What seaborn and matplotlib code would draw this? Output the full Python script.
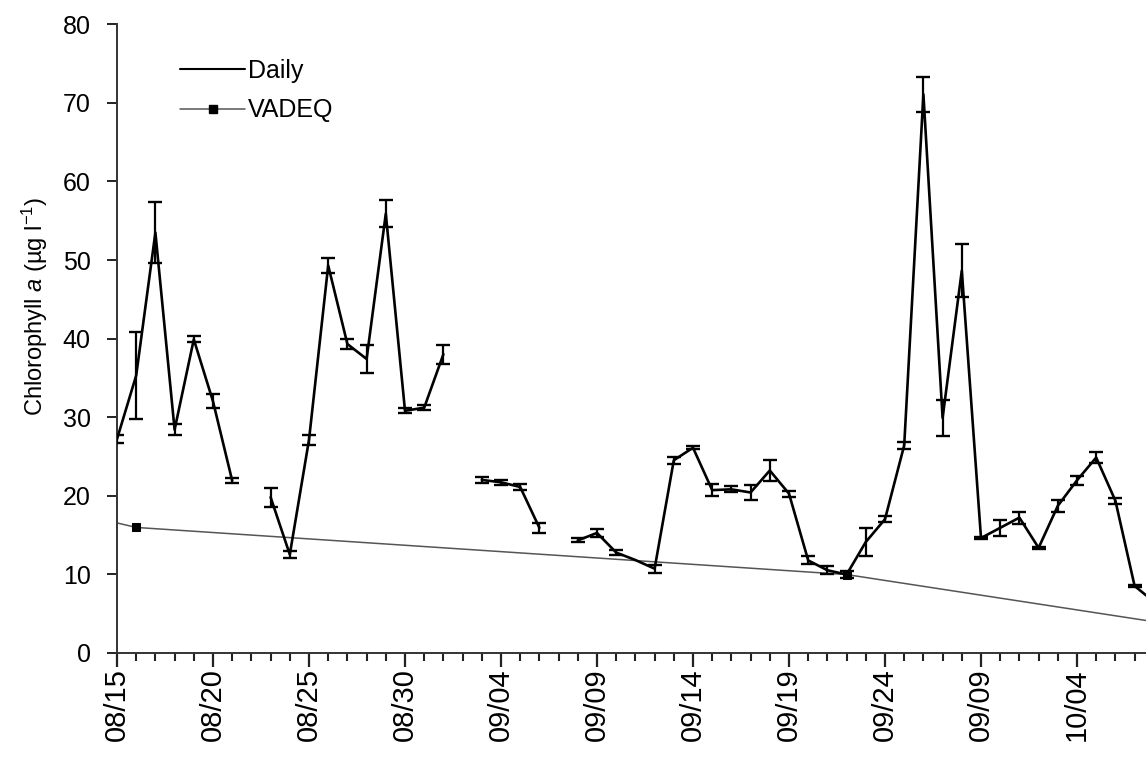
import numpy as np
import pandas as pd
import matplotlib
matplotlib.use("Agg")
import matplotlib.pyplot as plt
import seaborn as sns
from matplotlib.lines import Line2D

# ---------------- data ----------------
days = list(range(55))  # day index from 08/15
daily_chl = [27.2, 35.3, 53.5, 28.4, 39.9, 32.0, 21.9, np.nan, 19.8, 12.5,
             27.1, 49.3, 39.3, 37.4, 55.9, 30.8, 31.2, 38.0, np.nan, 22.0,
             21.7, 21.1, 15.9, np.nan, 14.3, 15.25, 12.75, 11.8, 10.7, 24.5,
             26.1, 20.7, 20.8, 20.4, 23.2, 20.25, 11.75, 10.5, 9.95, 14.1,
             17.0, 26.4, 71.1, 29.9, 48.65, 14.6, 15.9, 17.2, 13.35, 18.7,
             21.95, 24.85, 19.35, 8.5, 6.5]
daily_err = [0.55, 5.5, 3.9, 0.7, 0.4, 0.9, 0.3, np.nan, 1.2, 0.5,
             0.6, 0.9, 0.6, 1.75, 1.7, 0.3, 0.3, 1.2, np.nan, 0.4,
             0.3, 0.4, 0.6, np.nan, 0.25, 0.5, 0.3, np.nan, 0.5, 0.45,
             0.2, 0.75, 0.4, 1.0, 1.35, 0.4, 0.5, 0.5, 0.5, 1.8,
             0.35, 0.4, 2.2, 2.3, 3.4, 0.15, 1.05, 0.75, 0.15, 0.8,
             0.6, 0.65, 0.4, 0.1, 0.1]
vadeq_days = [-1, 1, 38, 56]
vadeq_chl = [17.1, 15.95, 9.95, 3.2]

tick_days = [0, 5, 10, 15, 20, 25, 30, 35, 40, 45, 50]
tick_labels = ["08/15", "08/20", "08/25", "08/30", "09/04", "09/09",
               "09/14", "09/19", "09/24", "09/09", "10/04"]
y_ticks = [0, 10, 20, 30, 40, 50, 60, 70, 80]

# ---------------- style ----------------
sns.set_style("ticks")
plt.rcParams["font.family"] = ["Liberation Sans", "DejaVu Sans"]
plt.rcParams["mathtext.fontset"] = "custom"
plt.rcParams["mathtext.rm"] = "Liberation Sans"
plt.rcParams["mathtext.it"] = "Liberation Sans:italic"
for k in ["text.color", "axes.labelcolor", "xtick.color", "ytick.color"]:
    plt.rcParams[k] = "black"

W, H = 1146, 758
fig = plt.figure(figsize=(W / 100, H / 100), dpi=100)
x0, y_zero, y_top = 117, 652.7, 24.4
ax = fig.add_axes([x0 / W, (H - y_zero) / H, 1 - x0 / W, (y_zero - y_top) / H])

df = pd.DataFrame({"day": days, "chl": daily_chl, "err": daily_err})
df["seg"] = np.cumsum(df["chl"].isna())
df_line = df.dropna(subset=["chl"])

dfv = pd.DataFrame({"day": vadeq_days, "chl": vadeq_chl})

# VADEQ line
sns.lineplot(data=dfv, x="day", y="chl", ax=ax, color="#555555", linewidth=1.1,
             marker="s", markersize=6, markerfacecolor="black",
             markeredgecolor="black", legend=False, zorder=2)

# Daily line
sns.lineplot(data=df_line, x="day", y="chl", units="seg", estimator=None,
             ax=ax, color="black", linewidth=1.9, legend=False, zorder=3)

# error bars
ax.errorbar(df["day"], df["chl"], yerr=df["err"], fmt="none", ecolor="black",
            elinewidth=1.6, capsize=5, capthick=1.7, zorder=4)

xmax = (W - x0) / 19.2
ax.set_xlim(0, xmax)
ax.set_ylim(0, 80)

# every day gets a tick; only every 5th day is labelled and drawn longer
all_tick_days = [d for d in days if d <= xmax]
label_map = dict(zip(tick_days, tick_labels))
ax.set_xticks(all_tick_days)
ax.set_xticklabels([label_map.get(d, "") for d in all_tick_days],
                   rotation=90, fontsize=21)
ax.tick_params(axis="x", which="major", length=6, width=1.5, pad=5,
               color="#222222", labelcolor="black", direction="out", bottom=True)
for d, tk in zip(all_tick_days, ax.xaxis.get_major_ticks()):
    if d in label_map:
        tk.tick1line.set_markersize(10)
        tk.tick1line.set_markeredgewidth(1.6)

ax.set_yticks(y_ticks)
ax.set_yticklabels([str(v) for v in y_ticks], fontsize=18)
ax.tick_params(axis="y", which="major", length=7, width=1.4, pad=12,
               color="#222222", labelcolor="black")
ax.set_xlabel("")
ax.set_ylabel("")
for s in ["top", "right"]:
    ax.spines[s].set_visible(False)
for s in ["left", "bottom"]:
    ax.spines[s].set_color("#333333")
    ax.spines[s].set_linewidth(1.4)

fig.text(35 / W, (H - 306) / H, r"Chlorophyll $\mathit{a}$ (µg l$^{-1}$)",
         rotation=90, ha="center", va="center", fontsize=17, color="black")

handles = [Line2D([], [], color="black", linewidth=1.5),
           Line2D([], [], color="#555555", linewidth=1.1, marker="s",
                  markersize=6, markerfacecolor="black", markeredgecolor="black")]
fig.legend(handles, ["Daily", "VADEQ"], loc="upper left",
           bbox_to_anchor=(180 / W, (H - 59) / H), frameon=False, fontsize=18,
           handlelength=2.6, handletextpad=0.12, labelspacing=0.62,
           borderpad=0, borderaxespad=0, labelcolor="black")

fig.savefig("out.png", dpi=100)
